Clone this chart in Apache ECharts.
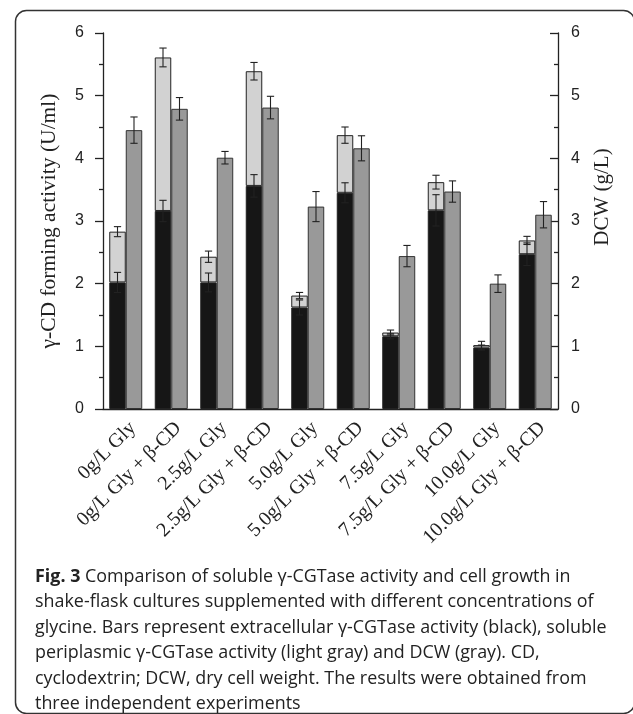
<!DOCTYPE html>
<html>
<head>
<meta charset="utf-8">
<script src="https://cdn.jsdelivr.net/npm/echarts@6/dist/echarts.min.js"></script>
<style>
html,body{margin:0;padding:0;background:#fff;}
#chart{width:633px;height:714px;}
</style>
</head>
<body>
<div id="chart"></div>
<script>
// ---- data ----
var categories = ['0g/L Gly','0g/L Gly + β-CD','2.5g/L Gly','2.5g/L Gly + β-CD','5.0g/L Gly','5.0g/L Gly + β-CD','7.5g/L Gly','7.5g/L Gly + β-CD','10.0g/L Gly','10.0g/L Gly + β-CD'];
var extracellular   = [2.02, 3.16, 2.02, 3.56, 1.62, 3.45, 1.16, 3.17, 0.98, 2.47];
var extracellularErr= [0.16, 0.17, 0.15, 0.18, 0.12, 0.16, 0.04, 0.25, 0.04, 0.18];
var periplasmic     = [0.81, 2.45, 0.41, 1.83, 0.19, 0.92, 0.06, 0.45, 0.04, 0.22];
var periplasmicErr  = [0.08, 0.15, 0.09, 0.14, 0.05, 0.13, 0.04, 0.11, 0.06, 0.065];
var dcw             = [4.45, 4.79, 4.01, 4.81, 3.23, 4.16, 2.44, 3.47, 2.00, 3.10];
var dcwErr          = [0.21, 0.18, 0.10, 0.18, 0.24, 0.20, 0.17, 0.17, 0.14, 0.21];
var yTicks = [0,1,2,3,4,5,6];

var captionLines = [
  ['Fig. 3', ' Comparison of soluble γ-CGTase activity and cell growth in'],
  ['', 'shake-flask cultures supplemented with different concentrations of'],
  ['', 'glycine. Bars represent extracellular γ-CGTase activity (black), soluble'],
  ['', 'periplasmic γ-CGTase activity (light gray) and DCW (gray). CD,'],
  ['', 'cyclodextrin; DCW, dry cell weight. The results were obtained from'],
  ['', 'three independent experiments']
];

var BAR_CAT_GAP = 0.275;

function errSeries(name, yAxisIndex, side, centers, errs) {
  var data = centers.map(function (c, i) { return [i, c - errs[i], c + errs[i]]; });
  return {
    name: name,
    type: 'custom',
    yAxisIndex: yAxisIndex,
    z: 10,
    silent: true,
    data: data,
    encode: { x: 0, y: [1, 2] },
    renderItem: function (params, api) {
      var idx = api.value(0);
      var lo = api.coord([idx, api.value(1)]);
      var hi = api.coord([idx, api.value(2)]);
      var band = api.size([1, 0])[0];
      var barW = band * (1 - BAR_CAT_GAP) / 2;
      var x = lo[0] + side * barW / 2;
      var cap = barW * 0.22;
      var st = { stroke: '#222', lineWidth: 1.1, fill: null };
      return {
        type: 'group',
        children: [
          { type: 'line', shape: { x1: x, y1: lo[1], x2: x, y2: hi[1] }, style: st },
          { type: 'line', shape: { x1: x - cap, y1: hi[1], x2: x + cap, y2: hi[1] }, style: st },
          { type: 'line', shape: { x1: x - cap, y1: lo[1], x2: x + cap, y2: lo[1] }, style: st }
        ]
      };
    }
  };
}

var stackTop = extracellular.map(function (v, i) { return v + periplasmic[i]; });

var chart = echarts.init(document.getElementById('chart'), null, { renderer: 'canvas' });

var captionEls = captionLines.map(function (ln, i) {
  return {
    type: 'text',
    left: 35,
    top: 568 + i * 25.4,
    style: {
      text: (ln[0] ? '{b|' + ln[0] + '}' : '') + '{n|' + ln[1] + '}',
      rich: {
        b: { fontFamily: 'Open Sans', fontWeight: 'bold', fontSize: 17.9, fill: '#222' },
        n: { fontFamily: 'Open Sans', fontSize: 17.9, fill: '#222' }
      }
    }
  };
});

var option = {
  backgroundColor: '#fff',
  animation: false,
  grid: { left: 103, right: 75, top: 33, bottom: 305 },
  xAxis: {
    type: 'category',
    data: categories,
    boundaryGap: true,
    axisLine: { lineStyle: { color: '#222', width: 1.3 } },
    axisTick: { alignWithLabel: true, length: 8, lineStyle: { color: '#222', width: 1.3 } },
    axisLabel: {
      rotate: 45, interval: 0, margin: 9, verticalAlign: 'top',
      fontFamily: 'Liberation Serif', fontSize: 20, color: '#222'
    }
  },
  yAxis: [
    {
      type: 'value', min: 0, max: 6, interval: 1, position: 'left',
      name: 'γ-CD forming activity (U/ml)',
      nameLocation: 'middle', nameRotate: 90, nameGap: 43,
      nameTextStyle: { fontFamily: 'Liberation Serif', fontSize: 21.5, color: '#222' },
      axisLine: { show: true, lineStyle: { color: '#222', width: 1.3 } },
      axisTick: { show: true, inside: false, length: 8, lineStyle: { color: '#222', width: 1.3 } },
      minorTick: { show: true, splitNumber: 2, length: 4, lineStyle: { color: '#222', width: 1.3 } },
      splitLine: { show: false },
      axisLabel: { margin: 19, fontFamily: 'Liberation Sans', fontSize: 16, color: '#222',
        formatter: function (v) { return yTicks.indexOf(v) >= 0 ? String(v) : ''; } }
    },
    {
      type: 'value', min: 0, max: 6, interval: 1, position: 'right',
      name: 'DCW (g/L)',
      nameLocation: 'middle', nameRotate: 90, nameGap: 34,
      nameTextStyle: { fontFamily: 'Liberation Serif', fontSize: 21, color: '#222', padding: [0, 0, 0, 48] },
      axisLine: { show: true, lineStyle: { color: '#222', width: 1.3 } },
      axisTick: { show: true, inside: true, length: 8, lineStyle: { color: '#222', width: 1.3 } },
      minorTick: { show: true, splitNumber: 2, length: 4, lineStyle: { color: '#222', width: 1.3 } },
      splitLine: { show: false },
      axisLabel: { margin: 13, fontFamily: 'Liberation Sans', fontSize: 16, color: '#222',
        formatter: function (v) { return yTicks.indexOf(v) >= 0 ? String(v) : ''; } }
    }
  ],
  series: [
    {
      name: 'Extracellular', type: 'bar', stack: 'act', yAxisIndex: 0,
      data: extracellular, barGap: '0%', barCategoryGap: (BAR_CAT_GAP * 100) + '%',
      itemStyle: { color: '#161616', borderColor: '#222', borderWidth: 1 }
    },
    {
      name: 'Periplasmic', type: 'bar', stack: 'act', yAxisIndex: 0,
      data: periplasmic,
      itemStyle: { color: '#d2d2d2', borderColor: '#222', borderWidth: 1 }
    },
    {
      name: 'DCW', type: 'bar', yAxisIndex: 1,
      data: dcw, barGap: '0%', barCategoryGap: (BAR_CAT_GAP * 100) + '%',
      itemStyle: { color: '#999999', borderColor: '#333', borderWidth: 1 }
    },
    errSeries('ExtraErr', 0, -1, extracellular, extracellularErr),
    errSeries('PeriErr', 0, -1, stackTop, periplasmicErr),
    errSeries('DcwErr', 1, 1, dcw, dcwErr)
  ],
  graphic: [
    {
      type: 'rect', left: 13, top: 8, silent: true,
      shape: { width: 619, height: 703, r: 11 },
      style: { fill: null, stroke: '#333', lineWidth: 1.5 }
    }
  ].concat(captionEls)
};
chart.setOption(option);
</script>
</body>
</html>
